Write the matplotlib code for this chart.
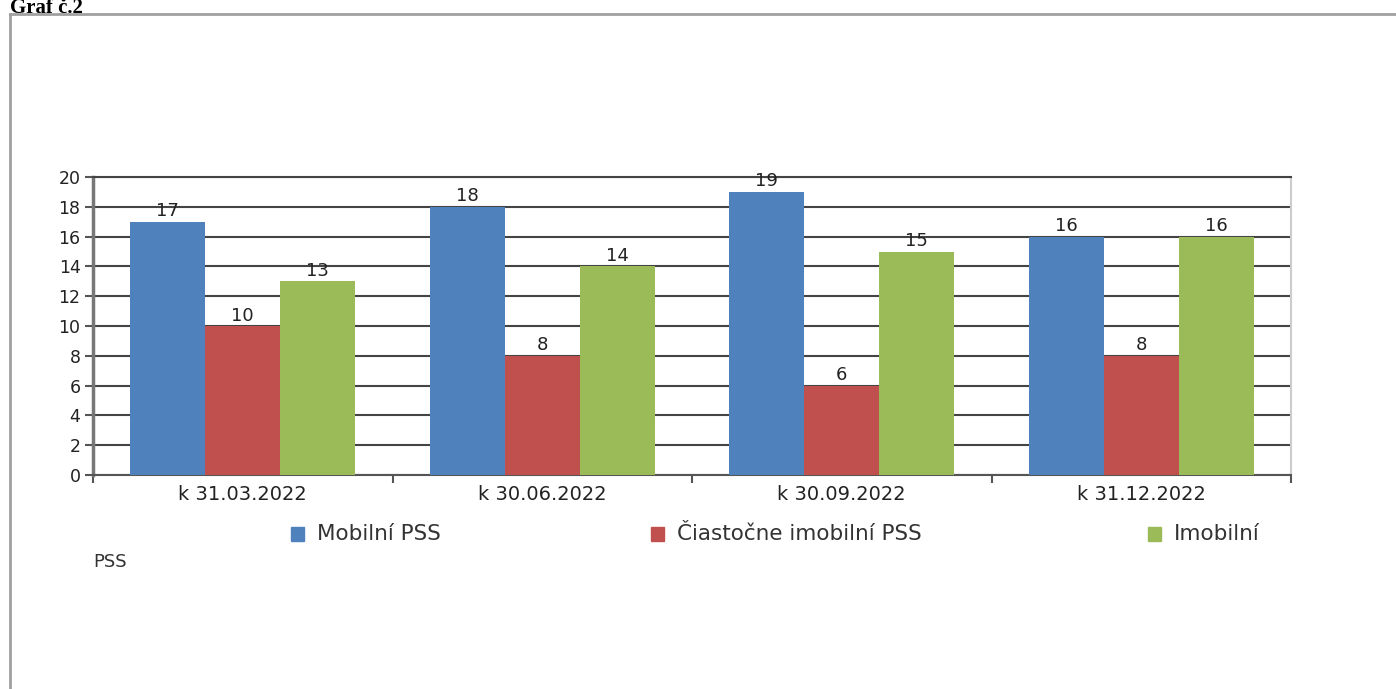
import matplotlib
matplotlib.use("Agg")
import matplotlib.pyplot as plt
import numpy as np
from matplotlib.patches import Rectangle
from matplotlib.lines import Line2D

# data
categories = ["k 31.03.2022", "k 30.06.2022", "k 30.09.2022", "k 31.12.2022"]
series_names = ["Mobilní PSS", "Čiastočne imobilní PSS", "Imobilní"]
mobilni = [17, 18, 19, 16]
ciastocne = [10, 8, 6, 8]
imobilni = [13, 14, 15, 16]
colors = ["#4F81BD", "#C0504D", "#9BBB59"]

fig = plt.figure(figsize=(13.96, 6.89), dpi=100)

# outer frame
fig.add_artist(Line2D([10 / 1396, 10 / 1396], [0, 1 - 14 / 689],
                      transform=fig.transFigure, color="#a0a0a0", lw=2))
fig.add_artist(Line2D([10 / 1396, 1], [1 - 14 / 689, 1 - 14 / 689],
                      transform=fig.transFigure, color="#a0a0a0", lw=2))
fig.text(10 / 1396, 1 - 13 / 689, "Graf č.2", family="Liberation Serif",
         fontweight="bold", fontsize=15, va="baseline", ha="left")

ax = fig.add_axes([93 / 1396, 1 - 475 / 689, (1291 - 93) / 1396, (475 - 177) / 689])

x = np.arange(len(categories))
w = 0.25
for i, (vals, c) in enumerate(zip([mobilni, ciastocne, imobilni], colors)):
    bars = ax.bar(x + (i - 1) * w, vals, width=w, color=c, zorder=3)
    for b, v in zip(bars, vals):
        ax.text(b.get_x() + b.get_width() / 2, v + 0.1, str(v), ha="center",
                va="bottom", fontsize=13, color="#222222", zorder=4)

ax.set_xlim(-0.5, len(categories) - 0.5)
ax.set_ylim(0, 20)
ax.set_yticks(range(0, 21, 2))
ax.tick_params(axis="y", labelsize=12.5, length=6, width=1.5, color="#555555",
               labelcolor="#222222", pad=3)
ax.yaxis.grid(True, color="#444444", lw=1.5, zorder=0)

# category ticks at boundaries, labels at centers
ax.set_xticks(np.arange(len(categories) + 1) - 0.5)
ax.set_xticklabels([])
ax.set_xticks(x, minor=True)
ax.set_xticklabels(categories, minor=True)
ax.tick_params(axis="x", which="major", length=6, width=1.5, color="#555555")
ax.tick_params(axis="x", which="minor", length=0, labelsize=14,
               labelcolor="#222222", pad=7)

ax.spines["left"].set_color("#777777")
ax.spines["left"].set_linewidth(2.5)
ax.spines["bottom"].set_color("#555555")
ax.spines["bottom"].set_linewidth(1.5)
ax.spines["top"].set_color("#444444")
ax.spines["top"].set_linewidth(1.5)
ax.spines["right"].set_color("#cccccc")
ax.spines["right"].set_linewidth(1.5)

# legend laid out like the source
legend_x = [291, 651, 1148]
for name, c, lx in zip(series_names, colors, legend_x):
    fig.add_artist(Rectangle((lx / 1396, 1 - 541 / 689), 13 / 1396, 14 / 689,
                             transform=fig.transFigure, color=c))
    fig.text((lx + 26) / 1396, 1 - 534 / 689, name, fontsize=15.5,
             va="center", ha="left", color="#333333")
fig.text(93 / 1396, 1 - 562 / 689, "PSS", fontsize=13,
         va="center", ha="left", color="#333333")

fig.savefig("out.png", dpi=100)
